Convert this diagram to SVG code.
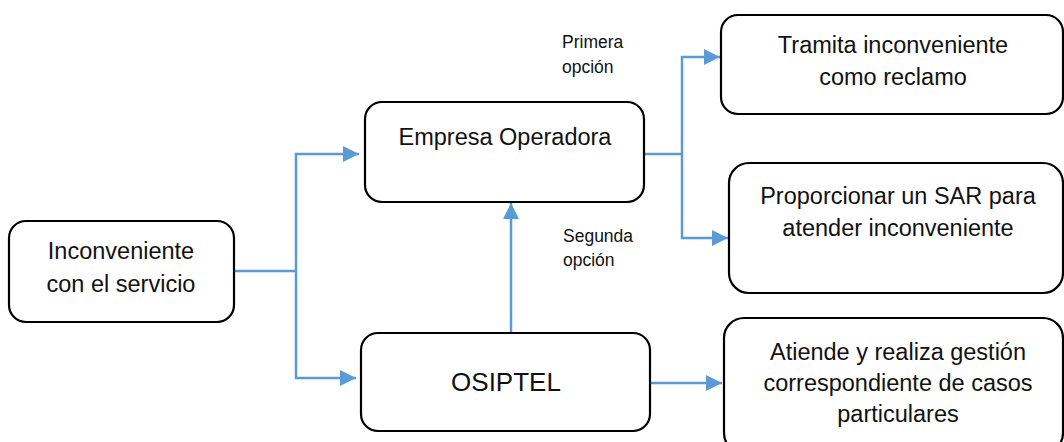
<svg xmlns="http://www.w3.org/2000/svg" width="1064" height="442" viewBox="0 0 1064 442">
<style>
.box{fill:#fff;stroke:#000;stroke-width:2.2}
.t{font-family:"Liberation Sans",Arial,sans-serif;font-size:23.5px;fill:#111;text-anchor:middle}
.s{font-family:"Liberation Sans",Arial,sans-serif;font-size:17.5px;fill:#111}
.c{fill:none;stroke:#5B9BD5;stroke-width:2.5}
</style>
<defs>
<marker id="ah" markerUnits="userSpaceOnUse" markerWidth="16" markerHeight="16" refX="16" refY="8" orient="auto">
<path d="M0,0 L16,8 L0,16 z" fill="#5B9BD5"/>
</marker>
</defs>
<rect width="1064" height="442" fill="#fff"/>
<g id="connectors">
<path class="c" d="M234,271 H296"/>
<path class="c" d="M296,271 V154 H359" marker-end="url(#ah)"/>
<path class="c" d="M296,271 V378 H356" marker-end="url(#ah)"/>
<path class="c" d="M644,154 H682"/>
<path class="c" d="M682,154 V57 H720" marker-end="url(#ah)"/>
<path class="c" d="M682,154 V238 H728" marker-end="url(#ah)"/>
<path class="c" d="M511,332 V203" marker-end="url(#ah)"/>
<path class="c" d="M651,383 H722" marker-end="url(#ah)"/>
</g>
<g id="n-inconveniente">
<rect class="box" x="9" y="221" width="225" height="101" rx="17"/>
<text class="t" x="121" y="259">Inconveniente</text>
<text class="t" x="121" y="292">con el servicio</text>
</g>
<g id="n-empresa">
<rect class="box" x="365" y="102" width="279" height="100" rx="17"/>
<text class="t" x="505" y="145">Empresa Operadora</text>
</g>
<g id="n-osiptel">
<rect class="box" x="361" y="333" width="289" height="98" rx="17"/>
<text class="t" x="506" y="391" style="font-size:26px">OSIPTEL</text>
</g>
<g id="n-tramita">
<rect class="box" x="721" y="15" width="342" height="99" rx="17"/>
<text class="t" x="893" y="53">Tramita inconveniente</text>
<text class="t" x="893" y="85">como reclamo</text>
</g>
<g id="n-proporcionar">
<rect class="box" x="729" y="163" width="334" height="130" rx="20"/>
<text class="t" x="898" y="204">Proporcionar un SAR para</text>
<text class="t" x="898" y="236">atender inconveniente</text>
</g>
<g id="n-atiende">
<rect class="box" x="724" y="318" width="339" height="135" rx="20"/>
<text class="t" x="898" y="360">Atiende y realiza gestión</text>
<text class="t" x="898" y="391">correspondiente de casos</text>
<text class="t" x="898" y="422">particulares</text>
</g>
<g id="labels">
<text class="s" x="562" y="48">Primera</text>
<text class="s" x="562" y="73">opción</text>
<text class="s" x="563" y="242">Segunda</text>
<text class="s" x="563" y="266">opción</text>
</g>
</svg>
